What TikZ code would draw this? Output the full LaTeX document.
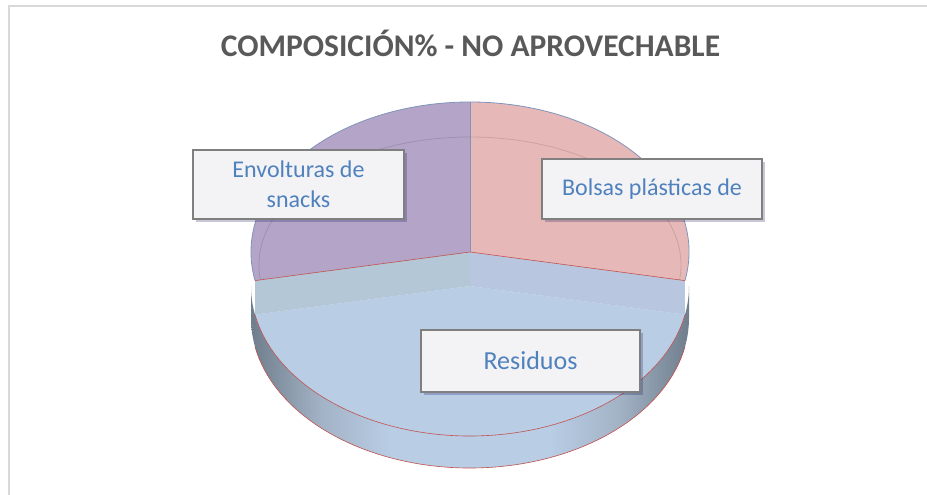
\documentclass[tikz,border=0pt]{standalone}
\usepackage{fontspec}
\setmainfont{Carlito}
\usepackage{tikz}
\usepackage{xcolor}
\usetikzlibrary{calc,positioning,shadows}

\definecolor{purpleTop}{HTML}{B4A5C8}
\definecolor{pinkTop}{HTML}{E6B9B8}
\definecolor{blueTop}{HTML}{B9CDE5}
\definecolor{wallL}{HTML}{B4C7D6}
\definecolor{wallR}{HTML}{B8C7DF}
\definecolor{wallDark}{HTML}{6F7D8C}
\definecolor{wallMid}{HTML}{A3B3C6}
\definecolor{edgeRed}{HTML}{C0504D}
\definecolor{edgeBlue}{HTML}{7F94B8}
\definecolor{boxEdge}{HTML}{7F7F7F}
\definecolor{boxFill}{HTML}{F3F3F6}
\definecolor{lblBlue}{HTML}{4F81BD}
\definecolor{titleGray}{HTML}{595959}
\definecolor{frameGray}{HTML}{D9D9D9}

\pgfdeclarehorizontalshading{pieside}{100bp}{color(0bp)=(wallDark); color(25bp)=(wallDark); color(33bp)=(wallMid); color(41bp)=(blueTop); color(59bp)=(blueTop); color(67bp)=(wallMid); color(75bp)=(wallDark); color(100bp)=(wallDark)}

\tikzset{
	lbl/.style={draw=boxEdge, line width=1.8pt, fill=boxFill, text=lblBlue, align=center, inner sep=0pt,
		font=\fontsize{24}{30}\selectfont,
		drop shadow={shadow xshift=3pt, shadow yshift=-3pt, fill=black!70!blue, opacity=0.22}},
	rim/.style={x radius=219, y radius=150}
}

\begin{document}
\begin{tikzpicture}[x=1pt,y=1pt]
		\useasboundingbox (0,0) rectangle (927,495);
		\draw[frameGray, line width=2pt] (9,0) -- (9,489) -- (927,489);
		\node[font=\bfseries\fontsize{31.5}{36}\selectfont, text=titleGray, anchor=base] (title) at (470.5,438) {COMPOSICIÓN\% - NO APROVECHABLE};
		\coordinate (topC) at (470,243);
		\coordinate (lowC) at (470,209);
		\shade[shading=pieside] ([shift={(180:219 and 150)}]lowC) arc[start angle=180, end angle=360, rim] -- ++(0,-32) arc[start angle=360, end angle=180, rim] -- cycle;
		\draw[edgeRed, line width=0.6pt] ([shift={(191:219 and 150)}]lowC) ++(0,-32) arc[start angle=191, end angle=349, rim];
		\fill[wallL] (topC) -- ([shift={(191:219 and 150)}]topC) -- ([shift={(191:219 and 150)}]lowC) -- (lowC) -- cycle;
		\fill[wallR] (topC) -- ([shift={(349:219 and 150)}]topC) -- ([shift={(349:219 and 150)}]lowC) -- (lowC) -- cycle;
		\draw[blueTop!85!black, line width=0.3pt, opacity=0.4] ([shift={(191:219 and 150)}]lowC) -- (lowC) -- ([shift={(349:219 and 150)}]lowC);
		\fill[blueTop] (lowC) -- ([shift={(191:219 and 150)}]lowC) arc[start angle=191, end angle=349, rim] -- cycle;
		\draw[edgeRed, line width=0.6pt] ([shift={(191:219 and 150)}]lowC) arc[start angle=191, end angle=349, rim];
		\fill[purpleTop] (topC) -- ([shift={(90:219 and 150)}]topC) arc[start angle=90, end angle=191, rim] -- cycle;
		\fill[pinkTop] (topC) -- ([shift={(-11:219 and 150)}]topC) arc[start angle=-11, end angle=90, rim] -- cycle;
		\begin{scope}
			\clip (topC) -- ([shift={(-11:219 and 150)}]topC) arc[start angle=-11, end angle=191, rim] -- cycle;
			\draw[black, opacity=0.12, line width=0.8pt] (470,230) ellipse[x radius=211, y radius=128];
		\end{scope}
		\draw[edgeBlue, line width=0.8pt] ([shift={(-11:219 and 150)}]topC) arc[start angle=-11, end angle=191, rim];
		\draw[edgeBlue, line width=0.8pt] (topC) -- ([shift={(90:219 and 150)}]topC);
		\draw[edgeRed, line width=0.6pt] ([shift={(191:219 and 150)}]topC) -- (topC) -- ([shift={(349:219 and 150)}]topC);
		\node[lbl, minimum width=211, minimum height=69] (snacks) at (298.5,310.5) {Envolturas de\\snacks};
		\node[lbl, minimum width=220, minimum height=60] (bolsas) at (652,306) {Bolsas plásticas de};
		\node[lbl, minimum width=219, minimum height=62, font=\fontsize{26}{31}\selectfont] (residuos) at (530.5,134) {Residuos};
		\end{tikzpicture}
\end{document}
